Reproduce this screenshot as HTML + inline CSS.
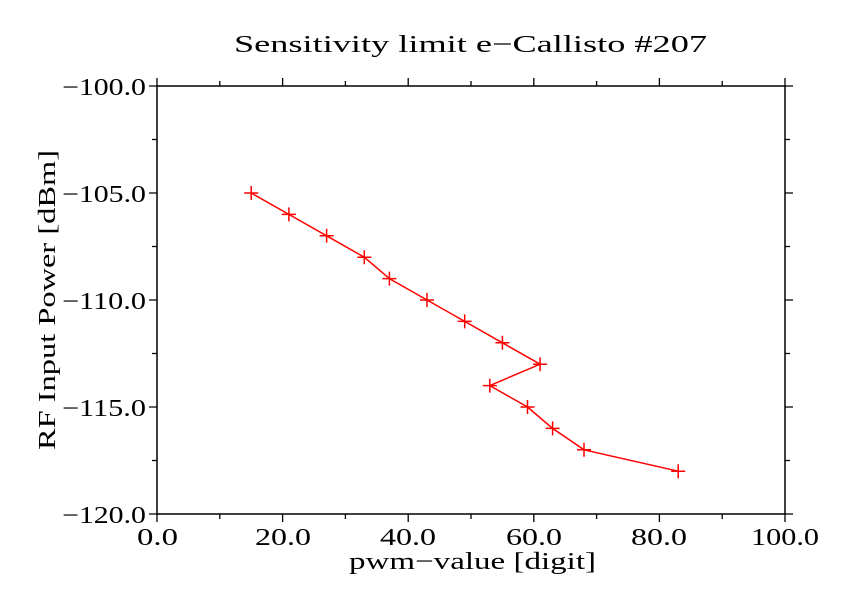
<!DOCTYPE html>
<html><head><style>body{margin:0;background:#fff}svg{display:block}text{font-family:"Liberation Serif",serif;fill:#000}</style></head>
<body>
<svg width="848" height="600" xmlns="http://www.w3.org/2000/svg">
<rect width="848" height="600" fill="#fff"/>
<text x="234" y="52" font-size="24" textLength="473" lengthAdjust="spacingAndGlyphs">Sensitivity limit e−Callisto #207</text>
<rect x="157" y="86" width="628" height="428" fill="none" stroke="#000" stroke-width="1.5"/>
<g stroke="#000" stroke-width="1.3">
<path d="M157 514v8M282.6 514v8M408.2 514v8M533.8 514v8M659.4 514v8M785 514v8M219.8 514v5M345.4 514v5M471 514v5M596.6 514v5M722.2 514v5"/>
<path d="M157 86v-8M282.6 86v-8M408.2 86v-8M533.8 86v-8M659.4 86v-8M785 86v-8M219.8 86v-5M345.4 86v-5M471 86v-5M596.6 86v-5M722.2 86v-5"/>
<path d="M157 86h-8M157 193h-8M157 300h-8M157 407h-8M157 514h-8M157 139.5h-5M157 246.5h-5M157 353.5h-5M157 460.5h-5"/>
<path d="M785 86h8M785 193h8M785 300h8M785 407h8M785 514h8M785 139.5h5M785 246.5h5M785 353.5h5M785 460.5h5"/>
</g>
<g font-size="24" lengthAdjust="spacingAndGlyphs">
<text x="137" y="545" textLength="41" lengthAdjust="spacingAndGlyphs">0.0</text>
<text x="255" y="545" textLength="56" lengthAdjust="spacingAndGlyphs">20.0</text>
<text x="380" y="545" textLength="56" lengthAdjust="spacingAndGlyphs">40.0</text>
<text x="506" y="545" textLength="56" lengthAdjust="spacingAndGlyphs">60.0</text>
<text x="631" y="545" textLength="56" lengthAdjust="spacingAndGlyphs">80.0</text>
<text x="751" y="545" textLength="68" lengthAdjust="spacingAndGlyphs">100.0</text>
</g>
<g font-size="24">
<text x="62" y="95" textLength="84" lengthAdjust="spacingAndGlyphs">−100.0</text>
<text x="62" y="202" textLength="84" lengthAdjust="spacingAndGlyphs">−105.0</text>
<text x="62" y="309" textLength="84" lengthAdjust="spacingAndGlyphs">−110.0</text>
<text x="62" y="416" textLength="84" lengthAdjust="spacingAndGlyphs">−115.0</text>
<text x="62" y="523" textLength="84" lengthAdjust="spacingAndGlyphs">−120.0</text>
</g>
<text x="349" y="569" font-size="24" textLength="247" lengthAdjust="spacingAndGlyphs">pwm−value [digit]</text>
<text transform="translate(55,450) rotate(-90)" font-size="24" textLength="300" lengthAdjust="spacingAndGlyphs">RF Input Power [dBm]</text>
<g stroke="#f00" stroke-width="1.5" fill="none">
<polyline points="251.2,193 288.9,214.4 326.6,235.8 364.3,257.2 389.4,278.6 427.0,300 464.7,321.4 502.4,342.8 540.1,364.2 489.8,385.6 527.5,407 552.6,428.4 584.0,449.8 678.2,471.2"/>
<path d="M244.2 193h14M251.2 186v14M281.9 214.4h14M288.9 207.4v14M319.6 235.8h14M326.6 228.8v14M357.3 257.2h14M364.3 250.2v14M382.4 278.6h14M389.4 271.6v14M420 300h14M427 293v14M457.7 321.4h14M464.7 314.4v14M495.4 342.8h14M502.4 335.8v14M533.1 364.2h14M540.1 357.2v14M482.8 385.6h14M489.8 378.6v14M520.5 407h14M527.5 400v14M545.6 428.4h14M552.6 421.4v14M577 449.8h14M584 442.8v14M671.2 471.2h14M678.2 464.2v14"/>
</g>
</svg>
</body></html>
